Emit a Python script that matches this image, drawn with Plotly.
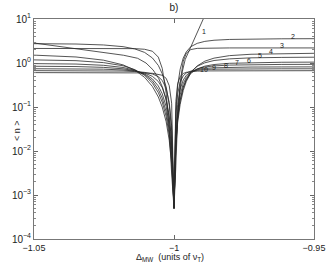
import math
import plotly.graph_objects as go

# detuning offsets from -1 (units of nu_T): left far->near, centre, right near->far
# samples for curve 1
delta_off_1 = [-0.05, -0.035, -0.025, -0.018, -0.013, -0.01, -0.0075, -0.0055, -0.004, -0.003, -0.002, -0.0012, -0.0006,
               0.0,
               0.0006, 0.0012, 0.002, 0.003, 0.004, 0.0055, 0.0075, 0.01, 0.013, 0.018]
# samples for curves 2-10
delta_off = [-0.07, -0.049, -0.035, -0.0252, -0.0182, -0.014, -0.0105, -0.0077, -0.0056, -0.0042, -0.0028, -0.0017, -0.00084,
             0.0,
             0.00066, 0.0013, 0.0022, 0.0033, 0.0044, 0.006, 0.0083, 0.011, 0.0143, 0.0198, 0.0275, 0.0385, 0.055]

n1 = [2.85, 2.11, 1.73, 1.50, 1.28, 1.0, 0.70, 0.45, 0.27, 0.16, 0.075, 0.028, 0.008,
      0.0006,
      0.01, 0.05, 0.2, 0.65, 1.2, 2.0, 3.8, 8.6, 24, 120]
n2 = [2.81, 2.77, 2.70, 2.57, 2.35, 2.09, 1.74, 1.30, 0.88, 0.57, 0.286, 0.111, 0.0296,
      0.0006,
      0.081, 0.30, 0.72, 1.30, 1.80, 2.35, 2.80, 3.10, 3.29, 3.43, 3.51, 3.55, 3.58]
n3 = [2.15, 2.15, 2.15, 2.15, 2.14, 2.12, 2.05, 1.85, 1.36, 0.755, 0.207, 0.0303, 0.0030,
      0.0005,
      0.0046, 0.056, 0.363, 1.10, 1.67, 2.02, 2.15, 2.18, 2.19, 2.2, 2.2, 2.2, 2.2]
n4 = [1.59, 1.50, 1.37, 1.16, 0.907, 0.689, 0.472, 0.292, 0.169, 0.0996, 0.0462, 0.0175, 0.0050,
      0.0006,
      0.0117, 0.0437, 0.115, 0.237, 0.382, 0.602, 0.86, 1.10, 1.29, 1.47, 1.58, 1.64, 1.68]
n5 = [1.24, 1.20, 1.13, 1.02, 0.865, 0.708, 0.525, 0.348, 0.212, 0.129, 0.0608, 0.0230, 0.0063,
      0.0005,
      0.0144, 0.0538, 0.139, 0.276, 0.425, 0.631, 0.842, 1.01, 1.14, 1.24, 1.31, 1.34, 1.36]
n6 = [1.00, 0.981, 0.946, 0.886, 0.791, 0.684, 0.546, 0.390, 0.252, 0.159, 0.0774, 0.0296, 0.0080,
      0.0005,
      0.0156, 0.0582, 0.146, 0.281, 0.413, 0.581, 0.734, 0.848, 0.923, 0.984, 1.02, 1.04, 1.05]
n7 = [0.860, 0.849, 0.830, 0.796, 0.738, 0.668, 0.566, 0.435, 0.301, 0.200, 0.102, 0.0399, 0.0107,
      0.0005,
      0.0212, 0.078, 0.188, 0.338, 0.47, 0.615, 0.732, 0.810, 0.858, 0.896, 0.917, 0.928, 0.934]
n8 = [0.755, 0.750, 0.741, 0.724, 0.694, 0.655, 0.592, 0.497, 0.38, 0.274, 0.152, 0.0631, 0.0171,
      0.0005,
      0.032, 0.113, 0.253, 0.41, 0.525, 0.632, 0.707, 0.752, 0.778, 0.798, 0.809, 0.814, 0.817]
n9 = [0.679, 0.677, 0.673, 0.667, 0.656, 0.640, 0.612, 0.564, 0.489, 0.401, 0.265, 0.127, 0.0373,
      0.0005,
      0.0614, 0.196, 0.37, 0.512, 0.592, 0.653, 0.691, 0.712, 0.723, 0.731, 0.736, 0.738, 0.739]
n10 = [0.61, 0.609, 0.609, 0.608, 0.605, 0.601, 0.595, 0.583, 0.559, 0.526, 0.448, 0.305, 0.122,
       0.0005,
       0.134, 0.335, 0.492, 0.578, 0.614, 0.640, 0.653, 0.661, 0.664, 0.667, 0.669, 0.67, 0.67]

curves = [n1, n2, n3, n4, n5, n6, n7, n8, n9, n10]
curve_names = ["1", "2", "3", "4", "5", "6", "7", "8", "9", "10"]

# curve label anchors (delta_MW, <n>)
label_x = [-0.9893, -0.9575, -0.9614, -0.9654, -0.9693, -0.9732, -0.9775, -0.9814, -0.9857, -0.9893]
label_y = [4.8, 3.55, 2.2, 1.65, 1.33, 1.03, 0.91, 0.80, 0.72, 0.65]

ytick_vals = [1e-4, 1e-3, 1e-2, 1e-1, 1, 10]
ytick_text = ["10<sup>−4</sup>", "10<sup>−3</sup>", "10<sup>−2</sup>", "10<sup>−1</sup>", "10<sup>0</sup>", "10<sup>1</sup>"]
xtick_vals = [-1.05, -1.0, -0.95]
xtick_text = ["−1.05", "−1", "−0.95"]

fig = go.Figure()
for i, (name, n) in enumerate(zip(curve_names, curves)):
    offs = delta_off_1 if i == 0 else delta_off
    fig.add_trace(go.Scatter(x=[-1 + d for d in offs], y=n, mode="lines", name=name,
                             line=dict(color="#2a2a2a", width=0.8), showlegend=False))

for name, lx, ly in zip(curve_names, label_x, label_y):
    fig.add_annotation(x=lx, y=math.log10(ly), text=name, showarrow=False,
                       font=dict(size=7, color="#222"), yshift=2)

font_family = "Liberation Sans, Arial, sans-serif"
fig.add_annotation(xref="paper", yref="paper", x=-0.086, y=0.495, text="< n >", textangle=-90,
                   showarrow=False, font=dict(size=9, color="#222"))
fig.add_annotation(xref="paper", yref="paper", x=0.486, y=-0.082, yanchor="middle",
                   text="Δ<sub>MW</sub>  (units of ν<sub>T</sub>)", showarrow=False,
                   font=dict(size=9, color="#222"))

fig.update_layout(
    width=327, height=269,
    margin=dict(l=34, r=13, t=19, b=30, autoexpand=False),
    paper_bgcolor="white", plot_bgcolor="white",
    font=dict(family=font_family, size=10, color="#222"),
    title=dict(text="b)", x=0.532, xanchor="center", y=0.985, yanchor="top",
               font=dict(size=10, family=font_family, color="#222")),
)
fig.update_xaxes(range=[-1.05, -0.95], tickvals=xtick_vals, ticktext=xtick_text,
                 ticks="inside", ticklen=4, tickcolor="#666", showline=True, linecolor="#777",
                 linewidth=1, mirror="ticks", showgrid=False, zeroline=False, automargin=False,
                 tickfont=dict(size=9), ticklabeloverflow="allow")
fig.update_yaxes(type="log", range=[-4, 1], tickvals=ytick_vals, ticktext=ytick_text,
                 ticks="inside", ticklen=4, tickcolor="#666", showline=True, linecolor="#777",
                 linewidth=1, mirror="ticks", showgrid=False, zeroline=False, automargin=False,
                 tickfont=dict(size=10), ticklabeloverflow="allow",
                 minor=dict(ticks="inside", ticklen=2, tickcolor="#888", dtick="D1", showgrid=False))

fig.write_html("out.html", config={"displayModeBar": False},
               post_script="document.body.style.margin='0';document.body.style.overflow='hidden';")
